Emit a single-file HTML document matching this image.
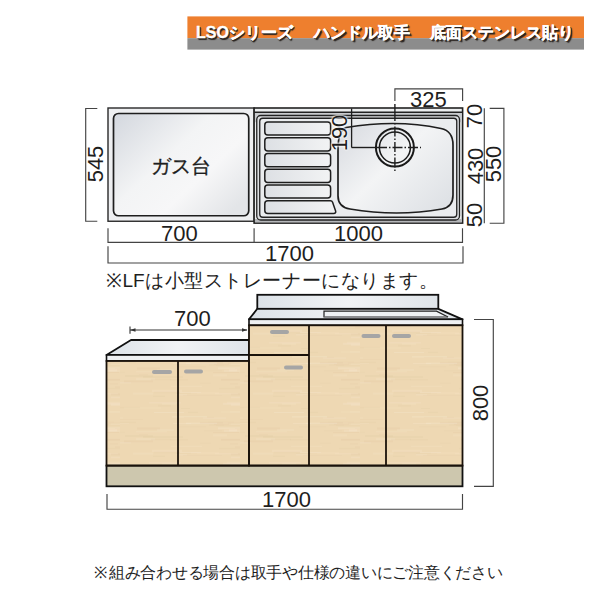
<!DOCTYPE html>
<html><head><meta charset="utf-8">
<style>
html,body{margin:0;padding:0;background:#fff;width:600px;height:600px;overflow:hidden;}
body{position:relative;font-family:"Liberation Sans",sans-serif;}
svg{position:absolute;left:0;top:0;}
.t{position:absolute;white-space:nowrap;line-height:1;color:#1e1e1e;}
.n{font-size:22px;}
.j{display:inline-block;text-align:center;}
.r{transform:translate(-50%,-50%) rotate(-90deg);}
.bn{position:absolute;top:25px;font-size:16px;font-weight:bold;color:#fff;white-space:nowrap;line-height:16px;text-shadow:1px 1px 0 #2a2420,1.5px 1.5px 1px #2a2420,0.5px 0.5px 0 #2a2420;-webkit-text-stroke:0.35px #fff;}
</style></head><body>
<svg width="600" height="600" viewBox="0 0 600 600">
<defs>
<linearGradient id="gas" x1="0" y1="0" x2="1" y2="0.8">
<stop offset="0" stop-color="#d3d7de"/>
<stop offset="0.45" stop-color="#f3f4f5"/>
<stop offset="0.7" stop-color="#f7f7f8"/>
<stop offset="1" stop-color="#e3e5e8"/>
</linearGradient>
<linearGradient id="bowl" x1="0" y1="0" x2="1" y2="0.8">
<stop offset="0" stop-color="#d6d9df"/>
<stop offset="0.5" stop-color="#f3f4f5"/>
<stop offset="1" stop-color="#dfe2e6"/>
</linearGradient>
<linearGradient id="groove" x1="0" y1="0" x2="1" y2="0">
<stop offset="0" stop-color="#dde0e4"/>
<stop offset="1" stop-color="#f2f3f4"/>
</linearGradient>
<linearGradient id="top" x1="0" y1="0" x2="1" y2="0">
<stop offset="0" stop-color="#dce2e8"/>
<stop offset="0.5" stop-color="#f1f3f5"/>
<stop offset="1" stop-color="#dfe4e9"/>
</linearGradient>
<pattern id="wood" width="120" height="60" patternUnits="userSpaceOnUse"><rect width="120" height="60" fill="#eed8b3"/><rect x="13" y="32.7" width="20" height="2" fill="#f7ead4" opacity="0.14"/><rect x="-18" y="50.2" width="16" height="1" fill="#d8be96" opacity="0.15"/><rect x="56" y="33.0" width="21" height="1" fill="#d8be96" opacity="0.09"/><rect x="110" y="23.4" width="8" height="1" fill="#d8be96" opacity="0.18"/><rect x="-14" y="46.8" width="34" height="1.5" fill="#d8be96" opacity="0.15"/><rect x="103" y="42.8" width="37" height="2" fill="#f7ead4" opacity="0.21"/><rect x="115" y="8.0" width="20" height="1" fill="#d8be96" opacity="0.10"/><rect x="115" y="26.2" width="28" height="1.5" fill="#d8be96" opacity="0.16"/><rect x="60" y="32.0" width="21" height="1" fill="#f7ead4" opacity="0.23"/><rect x="110" y="51.4" width="40" height="1" fill="#f7ead4" opacity="0.18"/><rect x="56" y="34.3" width="11" height="1" fill="#f7ead4" opacity="0.27"/><rect x="17" y="7.5" width="23" height="2" fill="#d8be96" opacity="0.16"/><rect x="37" y="9.0" width="17" height="2" fill="#f7ead4" opacity="0.14"/><rect x="66" y="2.7" width="31" height="1.5" fill="#f7ead4" opacity="0.26"/><rect x="19" y="14.2" width="9" height="1" fill="#d8be96" opacity="0.14"/><rect x="-16" y="11.8" width="21" height="1.5" fill="#d8be96" opacity="0.09"/><rect x="101" y="18.8" width="39" height="2" fill="#d8be96" opacity="0.17"/><rect x="34" y="52.0" width="30" height="1" fill="#f7ead4" opacity="0.26"/><rect x="51" y="25.9" width="31" height="1" fill="#f7ead4" opacity="0.19"/><rect x="16" y="18.2" width="19" height="2" fill="#f7ead4" opacity="0.18"/><rect x="33" y="35.4" width="12" height="1.5" fill="#d8be96" opacity="0.15"/><rect x="29" y="42.4" width="32" height="1" fill="#f7ead4" opacity="0.27"/><rect x="-17" y="22.1" width="28" height="1.5" fill="#f7ead4" opacity="0.18"/><rect x="31" y="18.8" width="20" height="1.5" fill="#d8be96" opacity="0.12"/><rect x="88" y="1.6" width="26" height="1" fill="#d8be96" opacity="0.10"/><rect x="93" y="14.3" width="14" height="2" fill="#f7ead4" opacity="0.15"/><rect x="64" y="56.9" width="30" height="1" fill="#d8be96" opacity="0.17"/><rect x="4" y="20.2" width="29" height="2" fill="#d8be96" opacity="0.16"/><rect x="-15" y="57.5" width="18" height="1" fill="#f7ead4" opacity="0.18"/><rect x="96" y="5.1" width="28" height="1" fill="#d8be96" opacity="0.13"/><rect x="99" y="27.9" width="28" height="1.5" fill="#d8be96" opacity="0.12"/><rect x="109" y="9.4" width="8" height="2" fill="#f7ead4" opacity="0.27"/><rect x="80" y="1.9" width="23" height="1.5" fill="#d8be96" opacity="0.17"/><rect x="101" y="51.5" width="39" height="1" fill="#f7ead4" opacity="0.14"/><rect x="107" y="41.6" width="38" height="2" fill="#f7ead4" opacity="0.14"/><rect x="84" y="10.3" width="18" height="1" fill="#d8be96" opacity="0.12"/><rect x="111" y="36.7" width="19" height="1.5" fill="#f7ead4" opacity="0.21"/><rect x="94" y="3.7" width="15" height="1" fill="#d8be96" opacity="0.16"/><rect x="4" y="47.5" width="37" height="1" fill="#f7ead4" opacity="0.14"/><rect x="68" y="51.8" width="10" height="1.5" fill="#d8be96" opacity="0.14"/><rect x="53" y="3.1" width="18" height="1" fill="#f7ead4" opacity="0.24"/><rect x="-14" y="3.0" width="23" height="1" fill="#f7ead4" opacity="0.15"/><rect x="50" y="19.0" width="18" height="1.5" fill="#d8be96" opacity="0.12"/><rect x="23" y="15.9" width="40" height="2" fill="#d8be96" opacity="0.14"/><rect x="80" y="22.8" width="11" height="1" fill="#d8be96" opacity="0.13"/><rect x="71" y="32.5" width="28" height="1" fill="#f7ead4" opacity="0.19"/><rect x="32" y="29.8" width="30" height="2" fill="#f7ead4" opacity="0.19"/><rect x="-17" y="13.1" width="17" height="1" fill="#f7ead4" opacity="0.17"/><rect x="-2" y="1.7" width="18" height="1.5" fill="#d8be96" opacity="0.15"/><rect x="111" y="43.9" width="35" height="2" fill="#f7ead4" opacity="0.23"/><rect x="59" y="6.2" width="27" height="1" fill="#d8be96" opacity="0.10"/><rect x="34" y="31.6" width="26" height="2" fill="#d8be96" opacity="0.09"/><rect x="98" y="7.3" width="35" height="2" fill="#f7ead4" opacity="0.27"/><rect x="61" y="47.9" width="9" height="1" fill="#d8be96" opacity="0.15"/><rect x="111" y="3.7" width="18" height="1" fill="#f7ead4" opacity="0.17"/><rect x="5" y="15.0" width="28" height="2" fill="#d8be96" opacity="0.14"/><rect x="111" y="33.4" width="39" height="2" fill="#d8be96" opacity="0.18"/><rect x="38" y="44.8" width="13" height="2" fill="#d8be96" opacity="0.12"/><rect x="104" y="9.8" width="24" height="2" fill="#f7ead4" opacity="0.21"/><rect x="42" y="43.1" width="14" height="1.5" fill="#f7ead4" opacity="0.15"/><rect x="52" y="56.1" width="35" height="1.5" fill="#f7ead4" opacity="0.25"/><rect x="63" y="35.1" width="39" height="1" fill="#d8be96" opacity="0.11"/><rect x="93" y="12.0" width="26" height="1" fill="#d8be96" opacity="0.16"/><rect x="0" y="59.5" width="23" height="1" fill="#d8be96" opacity="0.16"/><rect x="95" y="33.4" width="23" height="1" fill="#f7ead4" opacity="0.19"/><rect x="83" y="57.6" width="23" height="1" fill="#f7ead4" opacity="0.22"/><rect x="89" y="4.2" width="15" height="1.5" fill="#d8be96" opacity="0.10"/><rect x="16" y="11.2" width="31" height="1" fill="#f7ead4" opacity="0.17"/><rect x="101" y="18.8" width="22" height="1" fill="#d8be96" opacity="0.11"/><rect x="108" y="2.2" width="22" height="1.5" fill="#d8be96" opacity="0.11"/></pattern>
</defs>

<!-- banner -->
<rect x="187.4" y="16.4" width="396.6" height="21.8" fill="#ee7f2e"/>
<rect x="187.4" y="38.2" width="396.6" height="11.4" fill="#8c8c8c"/>

<!-- ===== top view ===== -->
<g stroke="#444" stroke-width="1.15" fill="none">
<polyline points="97.3,108.5 85.7,108.5 85.7,221.2 97.3,221.2"/>
<polyline points="108,228.2 108,242.4 462.5,242.4 462.5,228.2"/>
<line x1="254.1" y1="228.2" x2="254.1" y2="242.4"/>
<polyline points="108,246.2 108,263 463,263 463,246.2"/>
<polyline points="489.7,108.3 503.9,108.3 503.9,223.2 489.7,223.2"/>
<line x1="484.3" y1="108.3" x2="484.3" y2="223.2"/>
<polyline points="394.9,101 394.9,88.9 462.6,88.9 462.6,101"/>
</g>

<!-- gas area -->
<rect x="108" y="108" width="146.1" height="113.25" fill="#eeeff1" stroke="#2a2a2a" stroke-width="1.4"/>
<rect x="113.5" y="113.5" width="135.25" height="102.25" rx="5" fill="url(#gas)" stroke="#1e1e1e" stroke-width="1.7"/>

<!-- sink area -->
<rect x="254.1" y="108" width="208.5" height="115.1" fill="#eceeef" stroke="#222" stroke-width="1.6"/>
<rect x="255" y="112.25" width="206.7" height="10" fill="#c9cbce"/>
<rect x="255" y="219" width="206.7" height="3.3" fill="#b5b7ba"/>
<line x1="254.1" y1="112.25" x2="462.6" y2="112.25" stroke="#222" stroke-width="1.3"/>
<rect x="256.75" y="115.5" width="202.75" height="104.5" rx="4" fill="#dcdee1" stroke="#222" stroke-width="1.3"/>
<rect x="259.75" y="118.25" width="197" height="99" rx="3" fill="#eaecee" stroke="#222" stroke-width="1.3"/>

<!-- grooves -->
<g fill="url(#groove)" stroke="#1e1e1e" stroke-width="1.5">
<rect x="264.8" y="122" width="65.8" height="13" rx="3"/>
<rect x="264.8" y="137.8" width="65.8" height="13.2" rx="3"/>
<rect x="264.8" y="153.5" width="65.8" height="13.2" rx="3"/>
<rect x="264.8" y="169.2" width="65.8" height="13.2" rx="3"/>
<rect x="264.8" y="184.9" width="65.8" height="13.2" rx="3"/>
<path d="M267.8,200.8 L330.5,200.8 Q332,200.8 332.6,202.3 L335.6,211 Q336.3,213.4 333.6,213.4 L267.8,213.4 Q264.8,213.4 264.8,210.4 L264.8,203.8 Q264.8,200.8 267.8,200.8 Z"/>
</g>

<!-- bowl -->
<path d="M338,150 L338,196 Q338,207 350,209 Q397,217 442,209 Q453,207 453,195 L453,145 Q453,131 441,128.5 Q397,119 346,127.5 Q338,130 338,150 Z" fill="url(#bowl)" stroke="#1e1e1e" stroke-width="1.7"/>

<!-- drain -->
<circle cx="394.9" cy="147.5" r="19" fill="none" stroke="#1a1a1a" stroke-width="2"/>
<circle cx="394.9" cy="147.5" r="15.5" fill="none" stroke="#1a1a1a" stroke-width="1.5"/>
<g stroke="#1e1e1e" stroke-width="1.4" fill="none">
<line x1="394.9" y1="104" x2="394.9" y2="173" stroke-dasharray="17,2,1.5,2,10,2,1.5,2,10,2,1.5,2,10,2,1.5,2,10,2,1.5,2"/>
<line x1="351.5" y1="147.5" x2="377" y2="147.5"/>
<line x1="377" y1="147.5" x2="421" y2="147.5" stroke-dasharray="10,2,1.5,2"/>
<line x1="351.6" y1="108.5" x2="351.6" y2="147.5" stroke-width="1.3"/>
</g>

<!-- ===== cabinet elevation ===== -->
<g stroke="#444" stroke-width="1.15" fill="none">
<polyline points="474,319.5 493.3,319.5 493.3,486.3 474,486.3"/>
<polyline points="107,494 107,509.2 462.5,509.2 462.5,494"/>
</g>
<g stroke="#333" stroke-width="1.1" fill="none">
<line x1="130" y1="330" x2="247" y2="330"/>
<line x1="130" y1="326.4" x2="130" y2="333.8"/>
</g>
<path d="M130,330 l5.5,-1.8 v3.6 z M247.5,330 l-5.5,-1.8 v3.6 z" fill="#333"/>

<!-- left low cabinet top -->
<polygon points="131,340 249,340 249,355 106.5,355" fill="url(#top)" stroke="#111" stroke-width="1.8" stroke-linejoin="round"/>
<rect x="106.5" y="355" width="142.5" height="6" fill="#eef0f2" stroke="#111" stroke-width="1.6"/>
<!-- backsplash + tall top -->
<rect x="257.3" y="294.8" width="181" height="14" fill="url(#top)" stroke="#111" stroke-width="1.8"/>
<polygon points="257.3,308.8 438.3,308.8 462.5,319.3 249,319.3" fill="url(#top)" stroke="#111" stroke-width="1.8" stroke-linejoin="round"/>
<polygon points="324,311.2 436.5,311.2 448,317 324,317" fill="#eef1f3" stroke="#222" stroke-width="1.2"/>
<rect x="324.5" y="316.2" width="122" height="2" fill="#8a8c8f"/>
<rect x="249" y="319.3" width="213.5" height="6" fill="#eef0f2" stroke="#111" stroke-width="1.6"/>

<!-- wood body -->
<rect x="106.5" y="361" width="356" height="104.6" fill="url(#wood)"/>
<rect x="249" y="325.3" width="213.5" height="40" fill="url(#wood)"/>
<rect x="106.5" y="465.6" width="356" height="20.7" fill="#cdc7ae" stroke="#111" stroke-width="1.8"/>
<g stroke="#1a120a" stroke-width="1.8" fill="none">
<rect x="106.5" y="361" width="142.5" height="104.6"/>
<line x1="178" y1="361" x2="178" y2="465.6"/>
<rect x="249" y="325.3" width="213.5" height="140.3"/>
<line x1="249" y1="355" x2="309" y2="355"/>
<line x1="309" y1="325.3" x2="309" y2="465.6"/>
<line x1="386" y1="325.3" x2="386" y2="465.6"/>
</g>
<g fill="#a5a5a5">
<rect x="152" y="370" width="20" height="4" rx="2"/>
<rect x="184" y="369.5" width="19" height="4" rx="2"/>
<rect x="270" y="330" width="19" height="4" rx="2"/>
<rect x="284" y="365.5" width="19" height="4" rx="2"/>
<rect x="361.5" y="334" width="19" height="4" rx="2"/>
<rect x="392" y="334" width="19" height="4" rx="2"/>
</g>
</svg>

<!-- banner text -->
<div class="bn" style="left:196px;">LSO<span class="j" style="width:16px">シ</span><span class="j" style="width:16px">リ</span><span class="j" style="width:16px">ー</span><span class="j" style="width:16px">ズ</span></div>
<div class="bn" style="left:314px;"><span class="j" style="width:16px">ハ</span><span class="j" style="width:16px">ン</span><span class="j" style="width:16px">ド</span><span class="j" style="width:16px">ル</span><span class="j" style="width:16px">取</span><span class="j" style="width:16px">手</span></div>
<div class="bn" style="left:430px;"><span class="j" style="width:16px">底</span><span class="j" style="width:16px">面</span><span class="j" style="width:16px">ス</span><span class="j" style="width:16px">テ</span><span class="j" style="width:16px">ン</span><span class="j" style="width:16px">レ</span><span class="j" style="width:16px">ス</span><span class="j" style="width:16px">貼</span><span class="j" style="width:16px">り</span></div>

<!-- labels top view -->
<div class="t" style="left:151px;top:155.5px;font-size:20px;-webkit-text-stroke:0.3px #1e1e1e;"><span class="j" style="width:20px">ガ</span><span class="j" style="width:20px">ス</span><span class="j" style="width:20px">台</span></div>
<div class="t n" style="left:161px;top:223px;">700</div>
<div class="t n" style="left:334px;top:223px;">1000</div>
<div class="t n" style="left:265px;top:243px;">1700</div>
<div class="t n" style="left:410px;top:89px;">325</div>
<div class="t n r" style="left:95.8px;top:164.4px;">545</div>
<div class="t n r" style="left:474.5px;top:115.6px;">70</div>
<div class="t n r" style="left:475.5px;top:166px;">430</div>
<div class="t n r" style="left:474.5px;top:215px;">50</div>
<div class="t n r" style="left:494px;top:164.4px;">550</div>
<div class="t n r" style="left:339.5px;top:132.5px;text-shadow:0 0 2px #fff,0 0 2px #fff,0 0 3px #fff;">190</div>
<div class="t" style="left:106px;top:271px;font-size:19px;"><span class="j" style="width:16.48px">※</span>LF<span class="j" style="width:19.59px">は</span><span class="j" style="width:19.59px">小</span><span class="j" style="width:19.59px">型</span><span class="j" style="width:19.59px">ス</span><span class="j" style="width:19.59px">ト</span><span class="j" style="width:19.59px">レ</span><span class="j" style="width:19.59px">ー</span><span class="j" style="width:19.59px">ナ</span><span class="j" style="width:19.59px">ー</span><span class="j" style="width:19.59px">に</span><span class="j" style="width:19.59px">な</span><span class="j" style="width:19.59px">り</span><span class="j" style="width:19.59px">ま</span><span class="j" style="width:19.59px">す</span><span class="j" style="width:19.59px">。</span></div>

<!-- labels cabinet -->
<div class="t n" style="left:174px;top:307.5px;">700</div>
<div class="t n" style="left:262px;top:489px;">1700</div>
<div class="t n r" style="left:481px;top:403px;">800</div>
<div class="t" style="left:93px;top:564.5px;font-size:16px;"><span class="j" style="width:15.76px">※</span><span class="j" style="width:15.76px">組</span><span class="j" style="width:15.76px">み</span><span class="j" style="width:15.76px">合</span><span class="j" style="width:15.76px">わ</span><span class="j" style="width:15.76px">せ</span><span class="j" style="width:15.76px">る</span><span class="j" style="width:15.76px">場</span><span class="j" style="width:15.76px">合</span><span class="j" style="width:15.76px">は</span><span class="j" style="width:15.76px">取</span><span class="j" style="width:15.76px">手</span><span class="j" style="width:15.76px">や</span><span class="j" style="width:15.76px">仕</span><span class="j" style="width:15.76px">様</span><span class="j" style="width:15.76px">の</span><span class="j" style="width:15.76px">違</span><span class="j" style="width:15.76px">い</span><span class="j" style="width:15.76px">に</span><span class="j" style="width:15.76px">ご</span><span class="j" style="width:15.76px">注</span><span class="j" style="width:15.76px">意</span><span class="j" style="width:15.76px">く</span><span class="j" style="width:15.76px">だ</span><span class="j" style="width:15.76px">さ</span><span class="j" style="width:15.76px">い</span></div>

</body></html>
